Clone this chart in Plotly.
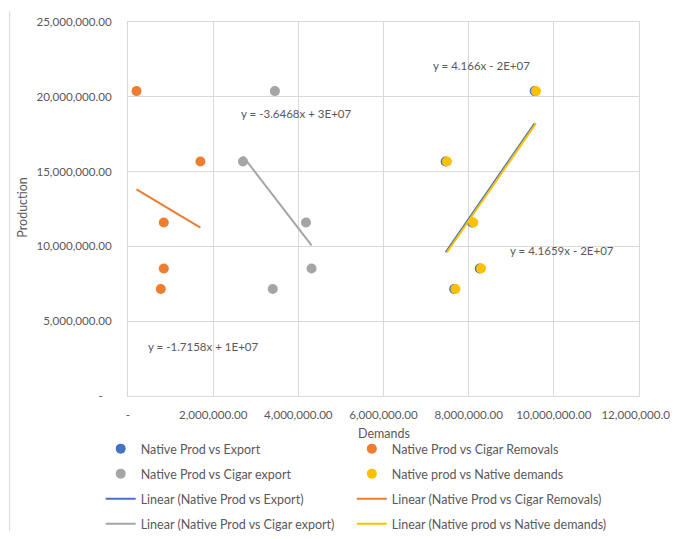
import numpy as np
import plotly.graph_objects as go

# ---- data ----
production = [20.38e6, 15.68e6, 11.60e6, 8.52e6, 7.15e6]
export = [9.55e6, 7.46e6, 8.08e6, 8.26e6, 7.66e6]
cigar_removals = [0.20e6, 1.70e6, 0.84e6, 0.84e6, 0.77e6]
cigar_export = [3.45e6, 2.70e6, 4.18e6, 4.31e6, 3.40e6]
native_demands = [9.58e6, 7.49e6, 8.11e6, 8.29e6, 7.69e6]

series_names = ["Native Prod vs Export", "Native Prod vs Cigar Removals",
                "Native Prod vs Cigar export", "Native prod vs Native demands"]
series_x = [export, cigar_removals, cigar_export, native_demands]
colors = ["#4472C4", "#ED7D31", "#A5A5A5", "#FFC000"]

x_tickvals = [0, 2e6, 4e6, 6e6, 8e6, 10e6, 12e6]
x_ticktext = ["-", "2,000,000.00", "4,000,000.00", "6,000,000.00",
              "8,000,000.00", "10,000,000.00", "12,000,000.00"]
y_tickvals = [0, 5e6, 10e6, 15e6, 20e6, 25e6]
y_ticktext = ["-   ", "5,000,000.00", "10,000,000.00", "15,000,000.00",
              "20,000,000.00", "25,000,000.00"]

equations = ["y = 4.1659x - 2E+07", "y = -1.7158x + 1E+07",
             "y = -3.6468x + 3E+07", "y = 4.166x - 2E+07"]
eq_pos = [(10.2e6, 9.75e6), (1.76e6, 3.28e6), (3.94e6, 18.89e6), (8.29e6, 22.12e6)]

FONT = "Lato, 'Liberation Sans', sans-serif"
TXT = "#595959"

fig = go.Figure()
# legend slots: row-major, two columns
scatter_legends = ["legend", "legend2", "legend3", "legend4"]
for name, xs, c, lg in zip(series_names, series_x, colors, scatter_legends):
    fig.add_trace(go.Scatter(x=xs, y=production, mode="markers", name=name,
                             marker=dict(color=c, size=10), legend=lg))

lin_legends = ["legend5", "legend6", "legend7", "legend8"]
for name, xs, c, lg in zip(series_names, series_x, colors, lin_legends):
    xa = np.array(xs)
    ya = np.array(production)
    m, b = np.polyfit(xa, ya, 1)
    xx = np.array([xa.min(), xa.max()])
    fig.add_trace(go.Scatter(x=xx, y=m * xx + b, mode="lines", name=f"Linear ({name})",
                             line=dict(color=c, width=2), legend=lg))

for t, (ex, ey) in zip(equations, eq_pos):
    fig.add_annotation(x=ex, y=ey, text=t, showarrow=False, xanchor="center", yanchor="middle",
                       font=dict(family=FONT, size=11.5, color=TXT))

fig.add_annotation(xref="paper", yref="paper", x=(384 - 128.3) / 510.7, y=(396 - 433.3) / 374,
                   xanchor="center", yanchor="middle",
                   text="Demands", showarrow=False, font=dict(family=FONT, size=12.5, color=TXT))
fig.add_annotation(xref="paper", yref="paper", x=(22 - 128.3) / 510.7, y=(396 - 208) / 374,
                   xanchor="center", yanchor="middle",
                   text="Production", textangle=-90, showarrow=False,
                   font=dict(family=FONT, size=12.5, color=TXT))

fig.add_shape(type="line", xref="paper", yref="paper",
              x0=(10 - 128.3) / 510.7, x1=(10 - 128.3) / 510.7,
              y0=(396 - 539) / 374, y1=(396 - 11) / 374,
              line=dict(color="#D9D9D9", width=1))

axis_common = dict(showgrid=True, gridcolor="#D9D9D9", gridwidth=1, zeroline=False,
                   showline=True, linecolor="#D9D9D9", mirror=True, automargin=False,
                   ticklabeloverflow="allow",
                   tickfont=dict(family=FONT, size=11.6, color=TXT), ticks="")

fig.update_xaxes(range=[0, 12e6], tickmode="array", tickvals=x_tickvals, ticktext=x_ticktext,
                 ticklabelstandoff=8, **axis_common)
fig.update_yaxes(range=[0, 25e6], tickmode="array", tickvals=y_tickvals, ticktext=y_ticktext,
                 ticklabelstandoff=13, **axis_common)

leg_common = dict(orientation="h", xanchor="left", yanchor="middle",
                  font=dict(family=FONT, size=12.5, color=TXT),
                  bgcolor="rgba(0,0,0,0)")
col_x = [(101 - 128.3) / 510.7, (352 - 128.3) / 510.7]
rows = [449, 474, 499, 524]
legends = {}
for i, key in enumerate(scatter_legends + lin_legends):
    r, c = divmod(i, 2)
    legends[key] = dict(x=col_x[c], y=(396 - rows[r]) / 374, **leg_common)

fig.update_layout(
    width=670, height=523,
    margin=dict(l=120, r=39, t=14, b=135, autoexpand=False),
    paper_bgcolor="white", plot_bgcolor="white",
    showlegend=True,
    **legends,
)

fig.write_html("out.html")
